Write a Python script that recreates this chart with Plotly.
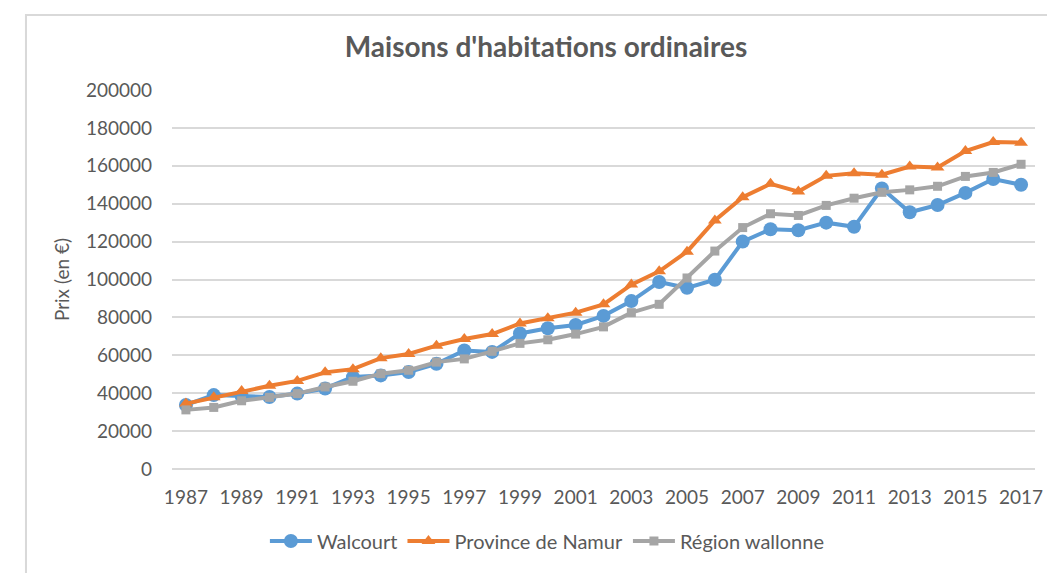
import plotly.graph_objects as go

years = list(range(1987, 2018))

walcourt = [33800, 39000, 38500, 38000, 39800, 42500, 48500, 49400, 51200, 55500,
            62500, 61800, 71500, 74300, 76000, 80800, 88600, 98700, 95600, 99900,
            120000, 126500, 126000, 130000, 127800, 148000, 135500, 139300, 145700, 153000, 150000]
namur = [34500, 37800, 41100, 43900, 46500, 51000, 52700, 58500, 60700, 65100,
         68600, 71200, 76800, 79500, 82500, 86900, 97300, 104300, 114700, 131200,
         143400, 150500, 146400, 154700, 156100, 155300, 159600, 159100, 167800, 172500, 172200]
wallonie = [31200, 32500, 36000, 37800, 39800, 43300, 46300, 50300, 52100, 56400,
            58100, 62100, 66300, 68200, 71200, 75000, 82500, 86900, 100800, 115000,
            127400, 134700, 133800, 139100, 142900, 146000, 147300, 149200, 154400, 156500, 160800]

font = "Lato, Open Sans, sans-serif"
grey_txt = "#595959"

fig = go.Figure()
fig.add_trace(go.Scatter(x=years, y=walcourt, name="Walcourt", mode="lines+markers",
                         line=dict(color="#5B9BD5", width=4),
                         marker=dict(symbol="circle", size=14, color="#5B9BD5")))
fig.add_trace(go.Scatter(x=years, y=namur, name="Province de Namur", mode="lines+markers",
                         line=dict(color="#ED7D31", width=4),
                         marker=dict(symbol="triangle-up", size=12, color="#ED7D31")))
fig.add_trace(go.Scatter(x=years, y=wallonie, name="Région wallonne", mode="lines+markers",
                         line=dict(color="#A5A5A5", width=4),
                         marker=dict(symbol="square", size=9, color="#A5A5A5")))

# chart border (light grey frame)
fig.add_shape(type="rect", xref="paper", yref="paper",
              x0=-0.1692, x1=1.2, y0=-0.5, y1=1.198,
              line=dict(color="#d9d9d9", width=2), layer="below")

# page body has an 8px margin, so the figure is a bit smaller than the window
fig.update_layout(
    width=1047, height=565,
    margin=dict(l=164, r=20, t=82, b=94),
    paper_bgcolor="white", plot_bgcolor="white",
    font=dict(family=font, color=grey_txt, size=19),
    title=dict(text="Maisons d'habitations ordinaires", x=538 / 1047, xanchor="center",
               y=1 - 39 / 565, yanchor="middle",
               font=dict(family=font, size=28, color=grey_txt, weight="bold")),
    legend=dict(orientation="h", x=0.435, xanchor="center", y=-0.19, yanchor="middle",
                font=dict(size=20, color=grey_txt), itemwidth=42),
    xaxis=dict(range=[1986.5, 2017.5], tickvals=years[::2], showgrid=False,
               zeroline=False, showline=False, ticks="", ticklabelstandoff=15),
    yaxis=dict(range=[0, 200000], dtick=20000, showgrid=True, gridcolor="#d9d9d9",
               gridwidth=1.5, zeroline=True, zerolinecolor="#d9d9d9", zerolinewidth=1.5,
               showline=False, ticks="", ticklabelstandoff=19, tickformat="d",
               title=dict(text="Prix (en €)", standoff=11, font=dict(size=19, color=grey_txt))),
)

fig.write_html("out.html")
